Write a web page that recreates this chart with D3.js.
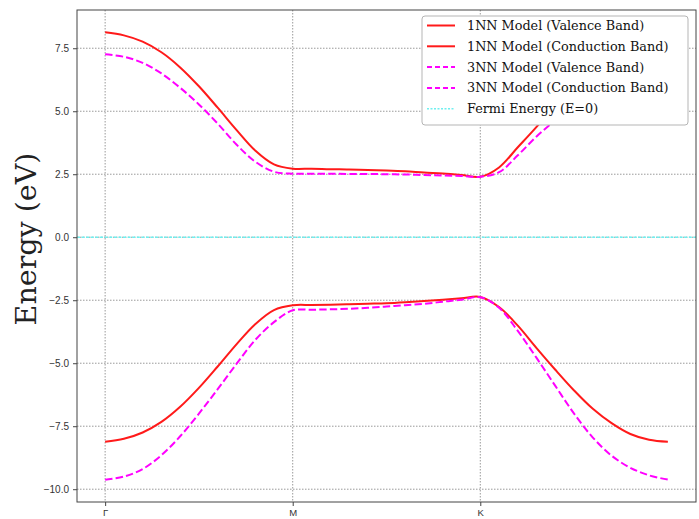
<!DOCTYPE html>
<html>
  <head>
    <meta charset="utf-8">
    <script src="https://d3js.org/d3.v7.min.js"></script>
    <style>
      body { margin: 0; background: #fff; }
      svg { font-family: "DejaVu Sans", sans-serif; }
      .tick text { font-size: 10px; fill: #333; }
      .legend-text { font-family: "DejaVu Serif", serif; font-size: 12.8px; fill: #111; }
    </style>
  </head>
  <body>
    <div id="chart"></div>
    <script>
      // path coordinate: Γ = 0, M = 1, K = 2, end of path = 3
      var kPath = [0, 0.1, 0.2, 0.3, 0.4, 0.5, 0.6, 0.7, 0.8, 0.9,
                   1.0, 1.1, 1.2, 1.3, 1.4, 1.5, 1.6, 1.7, 1.8, 1.9,
                   2.0, 2.1, 2.2, 2.3, 2.4, 2.5, 2.6, 2.7, 2.8, 2.9, 3.0];

      var nn1Upper = [8.13, 8.01, 7.76, 7.34, 6.74, 5.99, 5.14, 4.26, 3.44, 2.89,
                      2.72, 2.72, 2.70, 2.69, 2.67, 2.65, 2.62, 2.57, 2.53, 2.47,
                      2.40, 2.77, 3.57, 4.38, 5.24, 6.07, 6.80, 7.38, 7.81, 8.04, 8.13];
      var nn1Lower = [-8.12, -8.00, -7.75, -7.33, -6.73, -5.98, -5.13, -4.25, -3.45, -2.89,
                      -2.70, -2.69, -2.68, -2.66, -2.64, -2.62, -2.58, -2.53, -2.48, -2.42,
                      -2.37, -2.77, -3.51, -4.40, -5.26, -6.08, -6.81, -7.38, -7.81, -8.04, -8.12];
      var nn3Upper = [7.26, 7.16, 6.92, 6.50, 5.93, 5.27, 4.51, 3.68, 3.00, 2.60,
                      2.52, 2.52, 2.52, 2.51, 2.51, 2.50, 2.49, 2.47, 2.45, 2.43,
                      2.40, 2.58, 3.25, 4.00, 4.65, 5.30, 5.90, 6.40, 6.85, 7.15, 7.26];
      var nn3Lower = [-9.62, -9.50, -9.20, -8.65, -7.90, -7.00, -6.03, -5.03, -4.08, -3.37,
                      -2.90, -2.88, -2.86, -2.84, -2.80, -2.75, -2.70, -2.64, -2.56, -2.48,
                      -2.38, -2.80, -3.72, -4.79, -5.90, -7.00, -7.95, -8.67, -9.15, -9.45, -9.62];

      var kTicks = [0, 1, 2];
      var kTickLabels = ["Γ", "M", "K"];
      var eTicks = [-10, -7.5, -5, -2.5, 0, 2.5, 5, 7.5];

      var legendLabels = ["1NN Model (Valence Band)", "1NN Model (Conduction Band)",
                          "3NN Model (Valence Band)", "3NN Model (Conduction Band)",
                          "Fermi Energy (E=0)"];

      var width = 699, height = 519;
      var plot = {left: 77, right: 696, top: 10, bottom: 502};

      var series = [
        {values: nn1Upper, color: "#ff1a1a", dash: null},
        {values: nn1Lower, color: "#ff1a1a", dash: null},
        {values: nn3Upper, color: "#ff00ff", dash: "7.4,3.2"},
        {values: nn3Lower, color: "#ff00ff", dash: "7.4,3.2"}
      ];

      /* Scale (matplotlib-like 5% margins) */
      var kExt = d3.extent(kPath);
      var kPad = (kExt[1] - kExt[0]) * 0.05;
      var allE = d3.merge(series.map(s => s.values));
      var eExt = d3.extent(allE);
      var ePad = (eExt[1] - eExt[0]) * 0.05;

      var xScale = d3.scaleLinear()
        .domain([kExt[0] - kPad, kExt[1] + kPad])
        .range([plot.left, plot.right]);
      var yScale = d3.scaleLinear()
        .domain([eExt[0] - ePad, eExt[1] + ePad])
        .range([plot.bottom, plot.top]);

      var svg = d3.select("#chart").append("svg")
        .attr("width", width)
        .attr("height", height);

      /* Grid */
      var grid = svg.append("g").attr("class", "grid");
      grid.selectAll(".hgrid").data(eTicks).enter().append("line")
        .attr("x1", plot.left).attr("x2", plot.right)
        .attr("y1", d => yScale(d)).attr("y2", d => yScale(d))
        .attr("stroke", "#9a9a9a").attr("stroke-width", 1)
        .attr("stroke-dasharray", "1.5,1.5");
      grid.selectAll(".vgrid").data(kTicks).enter().append("line")
        .attr("y1", plot.top).attr("y2", plot.bottom)
        .attr("x1", d => xScale(d)).attr("x2", d => xScale(d))
        .attr("stroke", "#9a9a9a").attr("stroke-width", 1)
        .attr("stroke-dasharray", "1.5,1.5");

      /* Bands */
      var line = d3.line()
        .x((d, i) => xScale(kPath[i]))
        .y(d => yScale(d))
        .curve(d3.curveCatmullRom.alpha(0.5));

      svg.append("g").selectAll("path")
        .data(series).enter().append("path")
        .attr("d", d => line(d.values))
        .attr("fill", "none")
        .attr("stroke", d => d.color)
        .attr("stroke-width", 2)
        .attr("stroke-dasharray", d => d.dash);

      /* Fermi level */
      svg.append("line")
        .attr("x1", plot.left).attr("x2", plot.right)
        .attr("y1", yScale(0)).attr("y2", yScale(0))
        .attr("stroke", "#6ff0f0").attr("stroke-width", 1.6)
        .attr("stroke-dasharray", "3,1.6");

      /* Axes */
      var yAxis = d3.axisLeft(yScale).tickValues(eTicks)
        .tickFormat(d3.format(".1f")).tickSize(4).tickPadding(4);
      var xAxis = d3.axisBottom(xScale).tickValues(kTicks)
        .tickFormat((d, i) => kTickLabels[i]).tickSize(4).tickPadding(3);

      svg.append("g")
        .attr("transform", `translate(${plot.left},0)`)
        .call(yAxis)
        .call(g => g.select(".domain").remove())
        .call(g => g.selectAll(".tick line").attr("stroke", "#444"));

      svg.append("g")
        .attr("transform", `translate(0,${plot.bottom})`)
        .call(xAxis)
        .call(g => g.select(".domain").remove())
        .call(g => g.selectAll(".tick line").attr("stroke", "#444"))
        .call(g => g.selectAll(".tick text").style("font-size", "9.5px"));

      svg.append("rect")
        .attr("x", plot.left).attr("y", plot.top)
        .attr("width", plot.right - plot.left)
        .attr("height", plot.bottom - plot.top)
        .attr("fill", "none").attr("stroke", "#444").attr("stroke-width", 1);

      svg.append("text")
        .attr("transform", `translate(36,${(plot.top + plot.bottom) / 2 - 17}) rotate(-90)`)
        .attr("text-anchor", "middle")
        .style("font-family", "'DejaVu Serif', serif")
        .style("font-size", "28.5px")
        .attr("fill", "#222")
        .text("Energy (eV)");

      /* Legend */
      var legendStyles = [
        {color: "#ff1a1a", dash: null, width: 2},
        {color: "#ff1a1a", dash: null, width: 2},
        {color: "#ff00ff", dash: "5,3", width: 2},
        {color: "#ff00ff", dash: "5,3", width: 2},
        {color: "#6ff0f0", dash: "2,1.5", width: 1.6}
      ];
      var legend = svg.append("g").attr("transform", "translate(422,16)");
      legend.append("rect")
        .attr("width", 266).attr("height", 109)
        .attr("rx", 3)
        .attr("fill", "#fff")
        .attr("stroke", "#b5b5b5");

      var rows = legend.selectAll(".row").data(legendLabels).enter().append("g")
        .attr("transform", (d, i) => `translate(0,${9.5 + i * 20.8})`);
      rows.append("line")
        .attr("x1", 5).attr("x2", 33)
        .attr("stroke", (d, i) => legendStyles[i].color)
        .attr("stroke-width", (d, i) => legendStyles[i].width)
        .attr("stroke-dasharray", (d, i) => legendStyles[i].dash);
      rows.append("text")
        .attr("class", "legend-text")
        .attr("x", 45).attr("dy", "0.35em")
        .text(d => d);
    </script>
  </body>
</html>
